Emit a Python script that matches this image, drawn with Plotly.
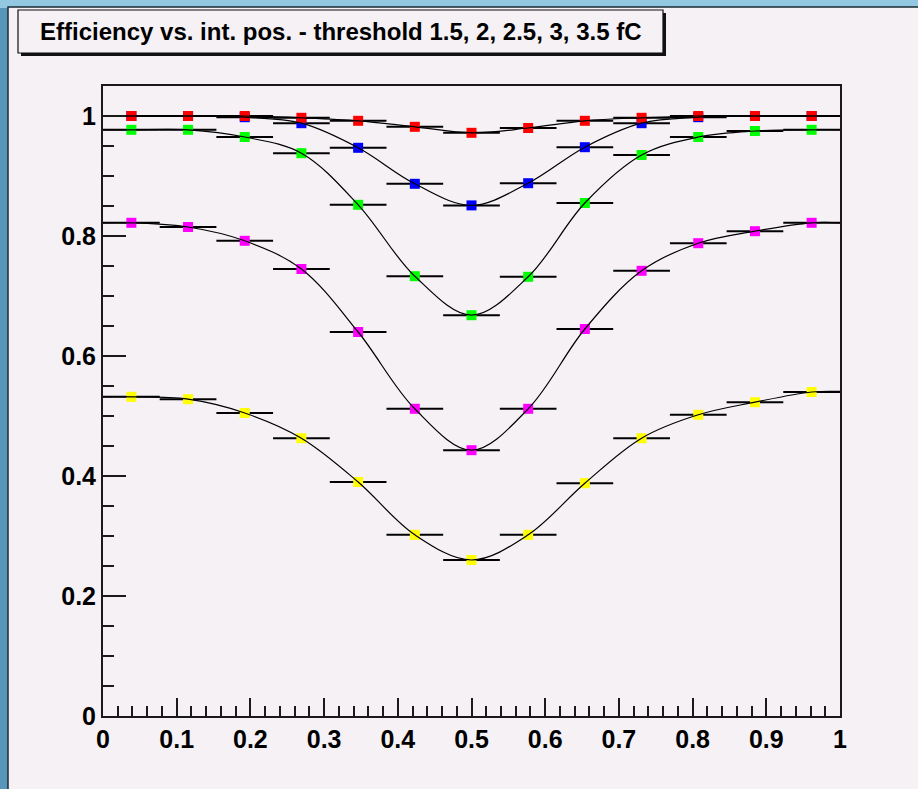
import plotly.graph_objects as go

# ---- data ----
bin_centers = [0.0385, 0.1154, 0.1923, 0.2692, 0.3462, 0.4231, 0.5,
               0.5769, 0.6538, 0.7308, 0.8077, 0.8846, 0.9615]
half_bin = 1 / 26

eff_1p5 = [1.0, 1.0, 1.0, 0.997, 0.992, 0.982, 0.972, 0.98, 0.992, 0.997, 1.0, 1.0, 1.0]
eff_2p0 = [1.0, 1.0, 0.998, 0.988, 0.947, 0.887, 0.851, 0.888, 0.948, 0.988, 0.998, 1.0, 1.0]
eff_2p5 = [0.977, 0.977, 0.965, 0.938, 0.852, 0.733, 0.668, 0.732, 0.855, 0.935, 0.965, 0.975, 0.977]
eff_3p0 = [0.822, 0.815, 0.792, 0.745, 0.64, 0.512, 0.443, 0.512, 0.645, 0.742, 0.788, 0.808, 0.822]
eff_3p5 = [0.532, 0.528, 0.505, 0.463, 0.39, 0.302, 0.26, 0.302, 0.388, 0.463, 0.502, 0.523, 0.54]

# fit curve end values at x=0 and x=1
fit_ends = {
    "1.5": (1.0, 1.0),
    "2": (1.0, 1.0),
    "2.5": (0.977, 0.977),
    "3": (0.822, 0.822),
    "3.5": (0.532, 0.541),
}

series = [
    ("3.5", eff_3p5, "#ffff00"),
    ("3", eff_3p0, "#ff00ff"),
    ("2.5", eff_2p5, "#00ff00"),
    ("2", eff_2p0, "#0000ff"),
    ("1.5", eff_1p5, "#ff0000"),
]

x_ticks = [0, 0.1, 0.2, 0.3, 0.4, 0.5, 0.6, 0.7, 0.8, 0.9, 1]
y_ticks = [0, 0.2, 0.4, 0.6, 0.8, 1]

title_text = "Efficiency vs. int. pos. - threshold 1.5, 2, 2.5, 3, 3.5 fC"

# ---- geometry helpers (pixels -> paper) ----
W, H = 918, 789
L, R, T, B = 103, 840, 86, 716


def px(x):
    return (x - L) / (R - L)


def py(y):
    return (B - y) / (B - T)


fig = go.Figure()

for name, vals, col in series:
    fig.add_trace(go.Scatter(
        x=bin_centers, y=vals, mode="markers", name=name,
        marker=dict(symbol="square", size=10, color=col, line=dict(width=0)),
        error_x=dict(type="constant", value=half_bin, width=0, thickness=2, color="#000000"),
        showlegend=False,
    ))

for name, vals, col in series:
    e0, e1 = fit_ends[name]
    fig.add_trace(go.Scatter(
        x=[0] + bin_centers + [1], y=[e0] + vals + [e1], mode="lines",
        line=dict(color="#000000", width=1.2, shape="spline", smoothing=1.0),
        showlegend=False, hoverinfo="skip",
    ))

shapes = [
    # top light strip of the blue surround
    dict(type="rect", xref="paper", yref="paper", x0=px(0), x1=px(W), y0=py(8), y1=py(0),
         fillcolor="#93c8e3", line=dict(width=0), layer="below"),
    # canvas
    dict(type="rect", xref="paper", yref="paper", x0=px(8), x1=px(W + 3), y0=py(H + 3), y1=py(7),
         fillcolor="#f5f1f5", line=dict(color="#1b2a33", width=1.5), layer="below"),
    # title box shadow
    dict(type="rect", xref="paper", yref="paper", x0=px(21), x1=px(666), y0=py(56), y1=py(13),
         fillcolor="#111111", line=dict(width=0), layer="below"),
    # title box
    dict(type="rect", xref="paper", yref="paper", x0=px(18), x1=px(663), y0=py(53), y1=py(10),
         fillcolor="#f5f1f5", line=dict(color="#111111", width=1.2), layer="below"),
]

fig.add_annotation(
    text=title_text, xref="paper", yref="paper", x=px(341), y=py(31.5),
    xanchor="center", yanchor="middle", showarrow=False,
    font=dict(family="Liberation Sans", size=24, color="#000000", weight="bold"),
)

axis_common = dict(
    showgrid=False, zeroline=False, showline=True, mirror=True,
    linecolor="#1a1a1a", linewidth=2, ticks="inside", tickwidth=2, tickcolor="#1a1a1a",
    tickfont=dict(family="Liberation Sans", size=25, color="#000000", weight="bold"),
)

fig.update_xaxes(
    range=[0, 1], tickvals=x_ticks, ticklen=18,
    minor=dict(dtick=0.02, tick0=0, ticklen=10, ticks="inside", tickwidth=2, tickcolor="#1a1a1a"),
    **axis_common,
)
fig.update_yaxes(
    range=[0, 1.05], tickvals=y_ticks, ticklen=23,
    minor=dict(dtick=0.05, tick0=0, ticklen=11, ticks="inside", tickwidth=2, tickcolor="#1a1a1a"),
    **axis_common,
)

fig.update_layout(
    width=W, height=H,
    margin=dict(l=L, r=W - R, t=T, b=H - B, autoexpand=False),
    paper_bgcolor="#5795bb",
    plot_bgcolor="rgba(0,0,0,0)",
    shapes=shapes,
    showlegend=False,
)

fig.write_html("out.html")
